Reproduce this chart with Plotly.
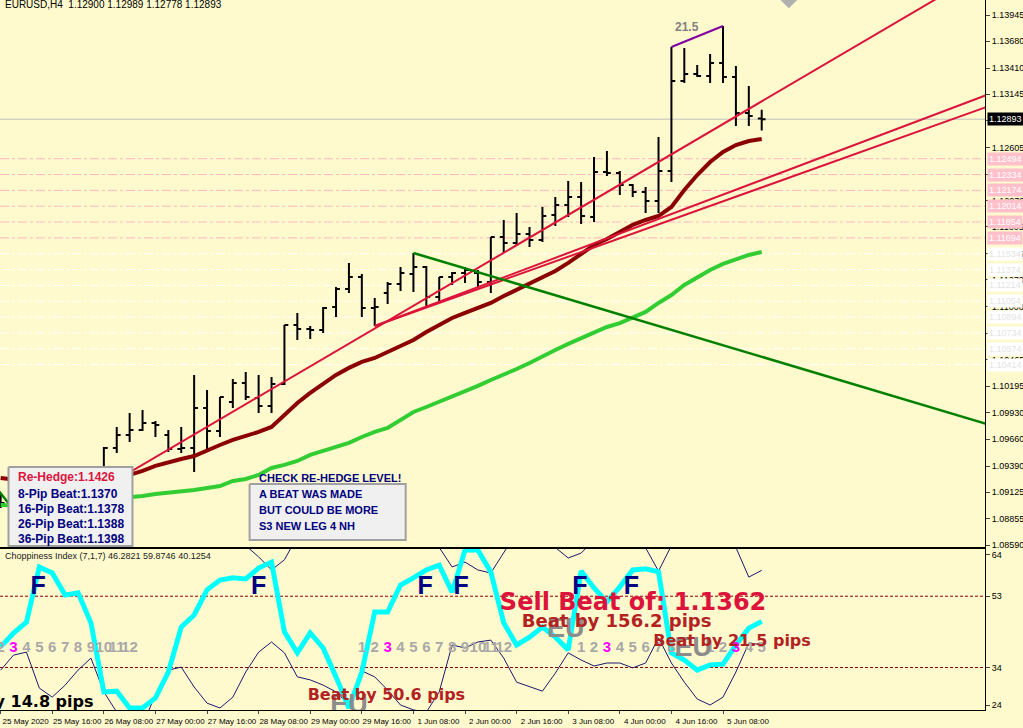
import plotly.graph_objects as go

# EURUSD H4 bars, 25 May 2020 00:00 .. 5 Jun 2020 20:00 (bar index 0..59)
bar_open = [1.09047, 1.09017, 1.08896, 1.08906, 1.08997, 1.08936, 1.08936, 1.09168, 1.09188, 1.09572,
            1.09704, 1.09754, 1.09825, 1.09704, 1.09562, 1.09572, 1.09976, 1.09744, 1.10037, 1.10229,
            1.10077, 1.09996, 1.10219, 1.10814, 1.10774, 1.10764, 1.10996, 1.11178, 1.11299, 1.10986,
            1.11138, 1.11229, 1.11330, 1.11400, 1.11097, 1.11299, 1.11340, 1.11340, 1.11249, 1.11703,
            1.11643, 1.11734, 1.11673, 1.11925, 1.12026, 1.12107, 1.11905, 1.12360, 1.12350, 1.12228,
            1.12158, 1.12067, 1.12370, 1.13279, 1.13350, 1.13329, 1.13461, 1.13319, 1.12956, 1.12900]
bar_high = [1.09097, 1.09037, 1.08926, 1.09097, 1.09118, 1.09047, 1.09097, 1.09219, 1.09582, 1.09784,
            1.09926, 1.09956, 1.09845, 1.09754, 1.09784, 1.10310, 1.10158, 1.10087, 1.10269, 1.10340,
            1.10310, 1.10289, 1.10814, 1.10936, 1.10804, 1.10996, 1.11198, 1.11441, 1.11330, 1.11087,
            1.11249, 1.11400, 1.11542, 1.11410, 1.11299, 1.11350, 1.11400, 1.11370, 1.11703, 1.11875,
            1.11946, 1.11804, 1.12006, 1.12107, 1.12269, 1.12259, 1.12511, 1.12572, 1.12370, 1.12238,
            1.12208, 1.12713, 1.13622, 1.13612, 1.13440, 1.13552, 1.13834, 1.13430, 1.13228, 1.12989]
bar_low = [1.08966, 1.08875, 1.08714, 1.08896, 1.08906, 1.08916, 1.08916, 1.09148, 1.09148, 1.09522,
           1.09633, 1.09744, 1.09683, 1.09532, 1.09522, 1.09330, 1.09552, 1.09683, 1.09976, 1.10057,
           1.09926, 1.09926, 1.10209, 1.10663, 1.10673, 1.10734, 1.10895, 1.11138, 1.10895, 1.10804,
           1.11027, 1.11158, 1.11148, 1.11006, 1.11037, 1.11219, 1.11239, 1.11188, 1.11138, 1.11542,
           1.11622, 1.11602, 1.11653, 1.11814, 1.11905, 1.11835, 1.11855, 1.12319, 1.12127, 1.12107,
           1.11946, 1.11946, 1.12259, 1.13259, 1.13319, 1.13259, 1.13259, 1.12824, 1.12824, 1.12778]
bar_close = [1.09017, 1.08906, 1.08906, 1.08997, 1.08936, 1.08946, 1.09077, 1.09188, 1.09572, 1.09704,
             1.09754, 1.09825, 1.09805, 1.09562, 1.09572, 1.09976, 1.09744, 1.10087, 1.10229, 1.10087,
             1.09996, 1.10219, 1.10814, 1.10774, 1.10764, 1.10986, 1.11178, 1.11299, 1.10986, 1.10996,
             1.11229, 1.11340, 1.11400, 1.11097, 1.11299, 1.11340, 1.11370, 1.11249, 1.11703, 1.11643,
             1.11734, 1.11673, 1.11915, 1.12026, 1.12107, 1.11915, 1.12360, 1.12350, 1.12228, 1.12158,
             1.12067, 1.12370, 1.13279, 1.13350, 1.13329, 1.13461, 1.13319, 1.12956, 1.12925, 1.12893]

ma_maroon = [1.09269, 1.09249, 1.09239, 1.09239, 1.09239, 1.09249, 1.09249, 1.09259, 1.09269, 1.09279,
             1.09300, 1.09340, 1.09391, 1.09431, 1.09461, 1.09491, 1.09552, 1.09602, 1.09653, 1.09693,
             1.09734, 1.09784, 1.09906, 1.10027, 1.10128, 1.10219, 1.10310, 1.10381, 1.10441, 1.10481,
             1.10542, 1.10592, 1.10663, 1.10744, 1.10814, 1.10885, 1.10936, 1.10986, 1.11037, 1.11107,
             1.11168, 1.11229, 1.11289, 1.11360, 1.11441, 1.11532, 1.11622, 1.11683, 1.11754, 1.11825,
             1.11875, 1.11915, 1.12006, 1.12178, 1.12329, 1.12461, 1.12562, 1.12632, 1.12673, 1.12693]
ma_lime = [1.08997, 1.08987, 1.08987, 1.08997, 1.09007, 1.09017, 1.09027, 1.09037, 1.09047, 1.09057,
           1.09067, 1.09087, 1.09107, 1.09118, 1.09138, 1.09148, 1.09168, 1.09188, 1.09239, 1.09259,
           1.09300, 1.09370, 1.09401, 1.09441, 1.09502, 1.09542, 1.09582, 1.09623, 1.09683, 1.09734,
           1.09774, 1.09855, 1.09936, 1.09986, 1.10037, 1.10087, 1.10138, 1.10199, 1.10259, 1.10310,
           1.10370, 1.10431, 1.10491, 1.10562, 1.10623, 1.10683, 1.10744, 1.10794, 1.10834, 1.10885,
           1.10946, 1.11037, 1.11117, 1.11219, 1.11299, 1.11370, 1.11431, 1.11481, 1.11522, 1.11552]

# trend lines: (bar, price) anchors
trend_red_steep = [(2, 1.08714), (73, 1.14144)]
trend_red_upper = [(29, 1.10804), (77, 1.13165)]
trend_red_lower = [(29, 1.10804), (77, 1.13043)]
trend_green = [(32, 1.11542), (77, 1.09793)]
trend_green_old = [(-1, 1.09278), (0.6, 1.09017)]
beat_line = [(52, 1.13622), (56, 1.13834)]

pink_levels = [1.12494, 1.12334, 1.12174, 1.12014, 1.11854, 1.11694]
white_levels = [1.11534, 1.11374, 1.11214, 1.11054, 1.10894, 1.10734, 1.10574, 1.10414]
last_price = 1.12893

price_ticks = [1.13945, 1.13680, 1.13410, 1.13145, 1.12875, 1.12605, 1.12339, 1.12070, 1.11805, 1.11535,
               1.11270, 1.11000, 1.10730, 1.10465, 1.10195, 1.09930, 1.09660, 1.09390, 1.09125, 1.08855, 1.08590]

time_bars = [0, 4, 8, 12, 16, 20, 24, 28, 32, 36, 40, 44, 48, 52, 56]
time_labels = ["25 May 2020", "25 May 16:00", "26 May 08:00", "27 May 00:00", "27 May 16:00",
               "28 May 08:00", "29 May 00:00", "29 May 16:00", "1 Jun 08:00", "2 Jun 00:00",
               "2 Jun 16:00", "3 Jun 08:00", "4 Jun 00:00", "4 Jun 16:00", "5 Jun 08:00"]

# Choppiness index (7,1,7)
chop_main = [39.5, 43.2, 46.1, 60.8, 59.2, 53.3, 53.9, 45.9, 27.5, 27.7,
             23.2, 23.2, 25.9, 32.8, 44.8, 48.0, 54.7, 57.3, 57.9, 57.6,
             60.5, 62.1, 43.5, 37.9, 43.2, 39.2, 31.5, 23.2, 32.8, 48.8,
             48.8, 56.0, 57.9, 60.0, 61.3, 54.1, 65.3, 65.3, 59.5, 45.9,
             40.0, 42.1, 44.8, 42.1, 38.7, 59.7, 55.2, 51.5, 55.5, 60.0,
             60.3, 59.5, 37.9, 36.0, 33.3, 34.7, 34.9, 40.0, 44.5, 46.3]
chop_upper = [70.0, 68.0, 66.0, 70.0, 72.0, 70.0, 68.0, 66.0, 70.0, 74.0,
              78.0, 80.0, 76.0, 72.0, 70.0, 72.0, 74.0, 72.0, 69.0, 66.5,
              63.5, 60.0, 62.7, 69.0, 72.0, 73.0, 75.0, 77.0, 72.0, 70.0,
              71.0, 73.0, 72.0, 70.0, 66.0, 60.8, 62.1, 60.0, 59.2, 64.8,
              70.0, 71.0, 70.0, 66.0, 63.2, 64.5, 68.0, 70.0, 69.0, 68.0,
              65.9, 59.7, 66.5, 72.0, 75.0, 76.0, 72.0, 66.0, 58.1, 59.9]
chop_lower = [33.3, 37.3, 38.1, 28.5, 26.1, 29.3, 33.3, 36.5, 27.5, 22.1,
              20.0, 18.7, 26.7, 33.3, 34.1, 28.8, 24.5, 23.2, 26.1, 32.8,
              38.1, 40.8, 37.9, 31.5, 30.7, 29.3, 27.5, 24.0, 33.1, 31.5,
              28.0, 24.0, 22.7, 22.1, 27.5, 40.0, 39.2, 40.8, 41.3, 36.5,
              30.1, 28.8, 27.7, 32.5, 37.9, 36.0, 34.4, 35.2, 35.2, 33.9,
              35.2, 41.9, 35.2, 30.1, 25.6, 24.0, 26.1, 32.8, 40.5, 40.1]
chop_levels = [53, 34]

f_bars = [2.9, 20.0, 32.9, 35.7, 44.9, 48.9]
count_starts = [-1, 28, 45, 55]
count_lengths = [12, 12, 8, 5]
eu_bars = [27.0, 43.8, 53.7]
eu_values = [23.6, 44.0, 38.9]

bars = list(range(len(bar_open)))
BG = "#FFFACD"
FONT = "Liberation Sans"
WIDE = "DejaVu Sans"
XRANGE = [-0.05, 76.31]

fig = go.Figure()

# horizontal levels
for lv in pink_levels:
    fig.add_shape(type="line", xref="x domain", yref="y", x0=0, x1=1, y0=lv, y1=lv, layer="below",
                  line=dict(color="#FFB6C1", width=1, dash="dashdot"))
for lv in white_levels:
    fig.add_shape(type="line", xref="x domain", yref="y", x0=0, x1=1, y0=lv, y1=lv, layer="below",
                  line=dict(color="white", width=1, dash="dashdot"))
fig.add_shape(type="line", xref="x domain", yref="y", x0=0, x1=1, y0=last_price, y1=last_price,
              layer="below", line=dict(color="#C0C0C0", width=1))

# moving averages
fig.add_trace(go.Scatter(x=bars, y=ma_lime, mode="lines", line=dict(color="#32CD32", width=4),
                         xaxis="x", yaxis="y", hoverinfo="skip"))
fig.add_trace(go.Scatter(x=bars, y=ma_maroon, mode="lines", line=dict(color="#8B0000", width=4),
                         xaxis="x", yaxis="y", hoverinfo="skip"))

# trend lines
for tl, col, w in [(trend_red_steep, "#DC143C", 2), (trend_red_upper, "#DC143C", 2),
                   (trend_red_lower, "#DC143C", 2), (trend_green, "#008000", 2.5),
                   (trend_green_old, "#008000", 2.5)]:
    fig.add_trace(go.Scatter(x=[p[0] for p in tl], y=[p[1] for p in tl], mode="lines",
                             line=dict(color=col, width=w), xaxis="x", yaxis="y", hoverinfo="skip"))

# info boxes (drawn over lines, under bars)
fig.add_trace(go.Scatter(x=[0.61, 10.22, 10.22, 0.61, 0.61],
                         y=[1.09380, 1.09380, 1.08582, 1.08582, 1.09380],
                         mode="lines", fill="toself", fillcolor="#F0F0F0",
                         line=dict(color="#A0A0A0", width=2), xaxis="x", yaxis="y", hoverinfo="skip"))
fig.add_trace(go.Scatter(x=[19.3, 31.4, 31.4, 19.3, 19.3],
                         y=[1.09209, 1.09209, 1.08643, 1.08643, 1.09209],
                         mode="lines", fill="toself", fillcolor="#F0F0F0",
                         line=dict(color="#A0A0A0", width=2), xaxis="x", yaxis="y", hoverinfo="skip"))

# bars
fig.add_trace(go.Ohlc(x=bars, open=bar_open, high=bar_high, low=bar_low, close=bar_close,
                      increasing=dict(line=dict(color="black", width=2)),
                      decreasing=dict(line=dict(color="black", width=2)),
                      tickwidth=0.3, xaxis="x", yaxis="y", hoverinfo="skip"))

fig.add_trace(go.Scatter(x=[p[0] for p in beat_line], y=[p[1] for p in beat_line], mode="lines",
                         line=dict(color="#8000A0", width=2), xaxis="x", yaxis="y", hoverinfo="skip"))
fig.add_trace(go.Scatter(x=[61.1], y=[1.14105], mode="markers",
                         marker=dict(symbol="diamond", size=14, color="#B0B0B0"),
                         xaxis="x", yaxis="y", hoverinfo="skip"))

# choppiness panel
fig.add_trace(go.Scatter(x=bars, y=chop_upper, mode="lines", line=dict(color="#191970", width=1),
                         xaxis="x2", yaxis="y2", hoverinfo="skip"))
fig.add_trace(go.Scatter(x=bars, y=chop_lower, mode="lines", line=dict(color="#191970", width=1),
                         xaxis="x2", yaxis="y2", hoverinfo="skip"))
fig.add_trace(go.Scatter(x=bars, y=chop_main, mode="lines", line=dict(color="#00FFFF", width=5),
                         xaxis="x2", yaxis="y2", hoverinfo="skip"))
for lv in chop_levels:
    fig.add_shape(type="line", xref="x2 domain", yref="y2", x0=0, x1=1, y0=lv, y1=lv, layer="below",
                  line=dict(color="#8B0000", width=1, dash="3px,2px"))

count_x, count_text, count_col = [], [], []
for s, n in zip(count_starts, count_lengths):
    for k in range(n):
        count_x.append(s + k)
        count_text.append("<b>%d</b>" % (k + 1))
        count_col.append("#FF00FF" if k + 1 == 3 else "#A8A8A8")
fig.add_trace(go.Scatter(x=count_x, y=[39.2] * len(count_x), mode="text", text=count_text,
                         textfont=dict(family=FONT, size=15, color=count_col),
                         xaxis="x2", yaxis="y2", hoverinfo="skip", cliponaxis=True))
fig.add_trace(go.Scatter(x=eu_bars, y=eu_values, mode="text", text=["<b>EU</b>"] * 3,
                         textfont=dict(family=FONT, size=27, color="#8C8C8C"),
                         xaxis="x2", yaxis="y2", hoverinfo="skip", cliponaxis=True))
fig.add_trace(go.Scatter(x=f_bars, y=[55.2] * len(f_bars), mode="text", text=["<b>F</b>"] * len(f_bars),
                         textfont=dict(family=FONT, size=25, color="#000080"),
                         xaxis="x2", yaxis="y2", hoverinfo="skip", cliponaxis=True))

beat_texts = [("Sell Beat of: 1.1362", 38.7, 50.9, 24, "#DC143C", "middle right"),
              ("Beat by 156.2 pips", 40.4, 46.1, 18, "#B22222", "middle right"),
              ("Beat by 21.5 pips", 50.6, 40.8, 16, "#B22222", "middle right"),
              ("Beat by 50.6 pips", 23.8, 26.4, 16, "#B22222", "middle right"),
              ("Beat by 14.8 pips", 7.2, 24.5, 16, "black", "middle left")]
for txt, bx, by, sz, col, pos in beat_texts:
    fig.add_trace(go.Scatter(x=[bx], y=[by], mode="text", text=["<b>%s</b>" % txt], textposition=pos,
                             textfont=dict(family=WIDE, size=sz, color=col),
                             xaxis="x2", yaxis="y2", hoverinfo="skip", cliponaxis=True))

annotations = []
annotations.append(dict(xref="paper", yref="paper", x=0.003, y=0.993, xanchor="left", yanchor="middle",
                        text="EURUSD,H4\u00a0 1.12900 1.12989 1.12778 1.12893", showarrow=False,
                        font=dict(family=FONT, size=10, color="black")))
annotations.append(dict(xref="paper", yref="paper", x=0.003, y=0.2169, xanchor="left", yanchor="middle",
                        text="Choppiness Index (7,1,7) 46.2821 59.8746 40.1254", showarrow=False,
                        font=dict(family=FONT, size=9, color="#202020")))
annotations.append(dict(xref="x", yref="y", x=53.2, y=1.13824, text="<b>21.5</b>", showarrow=False,
                        font=dict(family=FONT, size=12, color="#808080")))

box1 = [("Re-Hedge:1.1426", "#DC143C", 0.3282), ("8-Pip Beat:1.1370", "#000080", 0.3042),
        ("16-Pip Beat:1.1378", "#000080", 0.2831), ("26-Pip Beat:1.1388", "#000080", 0.2620),
        ("36-Pip Beat:1.1398", "#000080", 0.2408)]
for txt, col, yy in box1:
    annotations.append(dict(xref="paper", yref="paper", x=0.0162, y=yy, xanchor="left", yanchor="middle",
                            text="<b>%s</b>" % txt, showarrow=False,
                            font=dict(family=FONT, size=12, color=col)))
box2 = [("CHECK RE-HEDGE LEVEL!", 0.3268), ("A BEAT WAS MADE", 0.3042),
        ("BUT COULD BE MORE", 0.2817), ("S3 NEW LEG 4 NH", 0.2592)]
for txt, yy in box2:
    annotations.append(dict(xref="paper", yref="paper", x=0.2609, y=yy, xanchor="left", yanchor="middle",
                            text="<b>%s</b>" % txt, showarrow=False,
                            font=dict(family=FONT, size=11, color="#000080")))

for lv in pink_levels:
    annotations.append(dict(xref="paper", yref="y", x=1, y=lv, xanchor="left", yanchor="middle",
                            xshift=2, text="%.5f" % lv, showarrow=False, bgcolor="#FFC0CB", borderpad=1,
                            font=dict(family=FONT, size=9, color="white")))
for lv in white_levels:
    annotations.append(dict(xref="paper", yref="y", x=1, y=lv, xanchor="left", yanchor="middle",
                            xshift=2, text="%.5f" % lv, showarrow=False, bgcolor="white", borderpad=1,
                            font=dict(family=FONT, size=9, color="#E4E4E4")))
annotations.append(dict(xref="paper", yref="y", x=1, y=last_price, xanchor="left", yanchor="middle",
                        xshift=2, text="%.5f" % last_price, showarrow=False, bgcolor="black", borderpad=1,
                        font=dict(family=FONT, size=9, color="white")))

fig.update_layout(
    width=1023, height=728,
    margin=dict(l=0, r=38, t=0, b=18, autoexpand=False),
    paper_bgcolor=BG, plot_bgcolor=BG,
    showlegend=False,
    font=dict(family=FONT, size=9, color="black"),
    annotations=annotations,
    xaxis=dict(domain=[0, 1], range=XRANGE, anchor="y", showticklabels=False, showgrid=False,
               zeroline=False, showline=True, linecolor="black", linewidth=1, ticks="",
               automargin=False, rangeslider=dict(visible=False)),
    yaxis=dict(domain=[0.2296, 1], range=[1.08572, 1.14097], side="right", anchor="x", showgrid=False,
               zeroline=False, showline=True, linecolor="black", linewidth=1, ticks="outside", ticklen=4,
               tickvals=price_ticks, tickformat=".5f", tickfont=dict(size=9), automargin=False),
    xaxis2=dict(domain=[0, 1], range=XRANGE, anchor="y2", matches="x", showgrid=False,
                zeroline=False, showline=True, mirror=True, linecolor="black", linewidth=1,
                ticks="outside", ticklen=3, tickvals=time_bars, ticktext=time_labels, tickangle=0,
                ticklabelshift=25, tickfont=dict(size=8), automargin=False),
    yaxis2=dict(domain=[0, 0.2268], range=[22.67, 65.6], side="right", anchor="x2", showgrid=False,
                zeroline=False, showline=True, linecolor="black", linewidth=1, ticks="outside",
                ticklen=4, tickvals=[64, 53, 34, 24], tickfont=dict(size=9), automargin=False),
)

fig.write_html("out.html", config={"displayModeBar": False},
               post_script="document.body.style.margin='0';document.body.style.background='%s';" % BG)
